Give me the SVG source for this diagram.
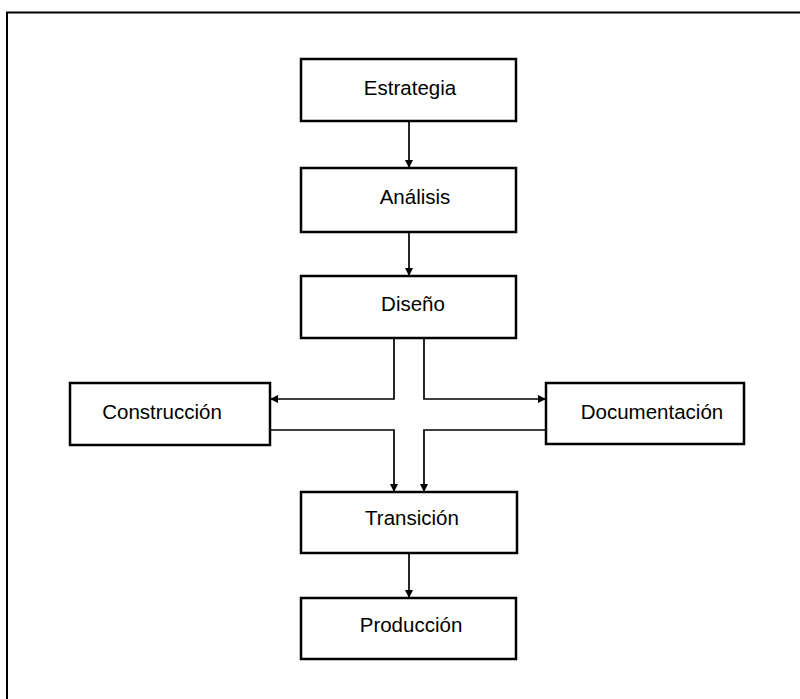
<svg xmlns="http://www.w3.org/2000/svg" width="800" height="699" viewBox="0 0 800 699">
  <style>
    .box { fill: #ffffff; stroke: #000000; stroke-width: 2.5; }
    .label { font-family: "Liberation Sans", Arial, sans-serif; font-size: 20.5px; fill: #000000; text-anchor: middle; }
    .link { fill: none; stroke: #000000; stroke-width: 1.7; }
    .frame { fill: none; stroke: #000000; stroke-width: 2; }
  </style>
  <defs>
    <marker id="arrow" markerWidth="9" markerHeight="9" refX="8" refY="4.5" orient="auto" markerUnits="userSpaceOnUse">
      <path d="M0,0.5 L8,4.5 L0,8.5 Z" fill="#000000"/>
    </marker>
  </defs>

  <rect width="800" height="699" fill="#ffffff"/>
  <!-- page frame (top and left edges) -->
  <path class="frame" d="M7,699 V12.5 H800"/>

  <g id="connectors">
    <path class="link" d="M409,121 V168" marker-end="url(#arrow)"/>
    <path class="link" d="M409,232 V276" marker-end="url(#arrow)"/>
    <path class="link" d="M394,338 V399 H270" marker-end="url(#arrow)"/>
    <path class="link" d="M424,338 V399 H546" marker-end="url(#arrow)"/>
    <path class="link" d="M270,430 H394 V492" marker-end="url(#arrow)"/>
    <path class="link" d="M546,430 H424 V492" marker-end="url(#arrow)"/>
    <path class="link" d="M409,553 V598" marker-end="url(#arrow)"/>
  </g>

  <g id="estrategia">
    <rect class="box" x="301" y="59" width="215" height="62"/>
    <text class="label" x="410" y="95">Estrategia</text>
  </g>
  <g id="analisis">
    <rect class="box" x="301" y="168" width="215" height="64"/>
    <text class="label" x="415" y="204">Análisis</text>
  </g>
  <g id="diseno">
    <rect class="box" x="301" y="276" width="215" height="62"/>
    <text class="label" x="413" y="311">Diseño</text>
  </g>
  <g id="construccion">
    <rect class="box" x="70" y="383" width="200" height="62"/>
    <text class="label" x="162" y="419">Construcción</text>
  </g>
  <g id="documentacion">
    <rect class="box" x="546" y="383" width="198" height="61"/>
    <text class="label" x="652" y="419">Documentación</text>
  </g>
  <g id="transicion">
    <rect class="box" x="301" y="492" width="216" height="61"/>
    <text class="label" x="412" y="525">Transición</text>
  </g>
  <g id="produccion">
    <rect class="box" x="301" y="598" width="215" height="61"/>
    <text class="label" x="411" y="632">Producción</text>
  </g>
</svg>
